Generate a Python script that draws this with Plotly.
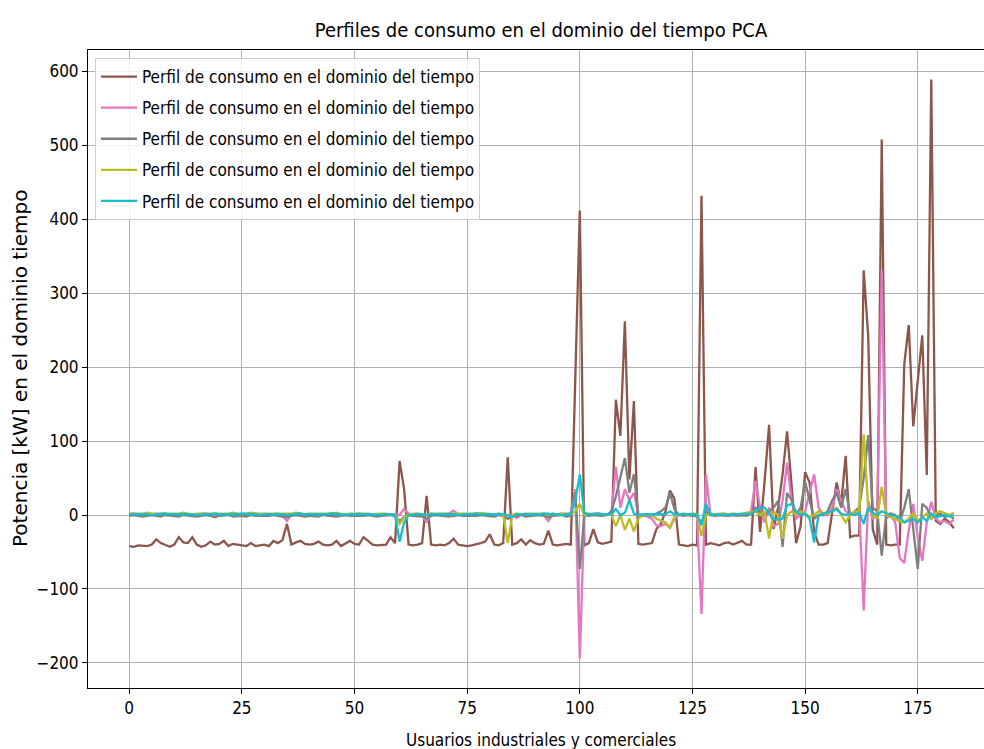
import plotly.graph_objects as go

x_vals = list(range(184))

brown = [-42,-43,-41,-42,-42,-40,-33,-38,-41,-43,
         -40,-30,-37,-38,-30,-40,-43,-41,-36,-40,
         -39,-35,-42,-39,-40,-41,-42,-38,-42,-41,
         -40,-42,-35,-38,-34,-12,-40,-37,-35,-39,
         -40,-39,-36,-40,-41,-40,-35,-42,-38,-35,
         -39,-40,-30,-35,-40,-41,-41,-40,-30,-38,
         73,35,-40,-41,-40,-38,26,-40,-41,-40,
         -41,-38,-32,-40,-41,-42,-41,-40,-38,-36,
         -26,-40,-41,-38,78,-40,-38,-33,-40,-34,
         -38,-40,-39,-21,-40,-41,-40,-39,-40,180,
         412,-41,-38,-19,-37,-39,-38,-36,156,107,
         262,48,154,-39,-40,-39,-38,-19,-12,5,
         33,22,-40,-41,-42,-40,-41,432,-40,-38,
         -40,-41,-38,-37,-40,-38,-35,-40,-40,65,
         -23,45,122,-19,10,55,113,40,-38,-15,
         58,44,-23,-40,-40,-38,0,44,15,80,
         -30,-28,-28,331,242,-19,-40,508,-40,-41,
         -40,-40,203,257,120,180,243,54,589,-8,
         -12,-5,-10,-18]

pink = [1,2,1,1,0,1,2,1,1,0,
        1,1,2,1,0,1,1,2,1,1,
        0,1,1,2,1,1,0,1,2,1,
        1,0,1,2,-1,-8,1,2,1,0,
        1,1,2,1,0,1,3,1,1,0,
        1,2,1,0,1,1,2,1,0,1,
        0,8,2,1,1,0,-10,2,1,1,
        1,2,6,1,0,1,1,2,1,0,
        1,1,0,1,-5,0,-4,1,1,0,
        1,1,0,-8,1,1,2,1,3,35,
        -194,3,0,2,1,1,0,2,65,10,
        35,20,30,0,0,-2,-5,-14,-15,-12,
        -17,-5,0,1,1,0,0,-134,55,0,
        0,1,1,0,1,1,0,2,5,46,
        10,-10,10,-15,-12,20,71,20,-5,0,
        5,30,55,10,0,0,10,35,20,5,
        0,2,10,-129,20,-5,0,331,-5,0,
        -10,-58,-65,-20,15,-30,-62,-10,18,-5,
        -10,-8,-12,-6]

gray = [-1,0,-1,-2,-1,0,-1,-2,0,-1,
        -1,-2,0,-1,-1,-2,-1,0,-1,-3,
        -1,-1,0,-2,-1,-1,-2,0,-1,-1,
        -2,-1,0,-1,-2,-3,-1,0,-1,-2,
        -1,-1,-2,0,-1,-1,-2,-1,0,-1,
        -1,-2,-1,0,-1,-2,-1,-1,0,-2,
        -8,-3,0,-1,-1,-2,-5,-1,0,-1,
        -1,-2,-1,0,-1,-1,-2,-1,0,-1,
        -1,-2,0,-1,-5,-1,-1,0,-2,-1,
        -1,0,-1,-3,-1,-1,0,-2,-1,30,
        -73,0,-1,0,-1,-1,0,5,25,50,
        77,30,55,0,-1,0,-1,2,5,10,
        30,8,0,-1,0,-1,-2,-10,5,0,
        -1,0,-1,-1,0,-1,0,-1,2,10,
        5,0,5,10,19,-43,30,20,0,10,
        45,20,-5,0,0,5,20,30,10,35,
        0,5,10,50,108,10,5,-55,0,2,
        0,-10,10,35,-20,-73,15,10,-5,0,
        2,-3,0,-5]

olive = [2,2,1,2,3,2,1,2,2,1,
         2,2,3,2,1,2,2,1,2,2,
         1,2,2,3,2,1,2,3,2,2,
         2,1,2,2,1,2,2,3,2,1,
         2,2,1,2,2,3,2,2,1,2,
         2,2,3,2,1,2,2,2,1,0,
         -12,-3,1,2,2,1,0,2,2,1,
         2,2,1,2,2,1,2,2,3,2,
         2,1,2,1,-38,0,2,1,2,2,
         1,2,2,0,2,1,2,2,1,5,
         15,0,2,1,2,2,1,0,-15,0,
         -20,-5,-22,-5,0,1,0,-5,-8,-10,
         -17,-2,1,2,1,2,1,-28,0,2,
         1,2,2,1,2,1,2,2,3,5,
         0,5,-32,5,0,-32,0,5,0,5,
         2,-3,0,5,3,2,5,10,0,-10,
         0,5,5,109,10,0,-5,38,0,-3,
         -5,-8,-10,-5,2,-8,-3,2,-5,3,
         5,2,0,3]

cyan = [1,1,2,1,1,0,1,1,2,1,
        1,1,1,2,1,0,1,1,1,2,
        1,1,0,1,1,2,1,1,1,0,
        1,1,2,1,1,0,1,1,2,1,
        1,0,1,1,1,2,1,1,0,1,
        1,1,2,1,1,0,1,1,1,0,
        -36,-10,0,1,1,1,0,1,1,2,
        1,1,1,0,1,1,1,2,1,1,
        1,1,2,1,0,-3,1,1,1,0,
        1,1,2,1,1,1,0,1,1,20,
        55,3,1,1,2,1,1,1,8,0,
        3,20,2,0,1,1,1,0,1,1,
        5,1,1,1,0,1,1,-14,15,0,
        1,1,0,1,1,1,1,1,2,5,
        10,10,2,-6,-6,-5,13,15,5,0,
        2,-5,-37,0,2,3,5,8,2,0,
        2,0,3,-12,10,3,0,5,2,0,
        -1,-3,-10,-8,-5,-10,-3,-8,2,-3,
        -2,0,-2,0]

series = [brown, pink, gray, olive, cyan]
colors = ["#8c564b", "#e377c2", "#7f7f7f", "#bcbd22", "#17becf"]
legend_name = "Perfil de consumo en el dominio del tiempo"
x_ticks = [0, 25, 50, 75, 100, 125, 150, 175]
y_ticks = [-200, -100, 0, 100, 200, 300, 400, 500, 600]

FONT = "DejaVu Sans Condensed, Liberation Sans Narrow, DejaVu Sans"

fig = go.Figure()
for k, (s, c) in enumerate(zip(series, colors)):
    fig.add_trace(go.Scatter(x=x_vals, y=s, mode="lines", name=legend_name,
                             legendgroup="g%d" % k,
                             line=dict(color=c, width=2.3)))

W, H = 984, 749
L, R, T, B = 88, 0, 50, 61
pw = W - L - R
ph = H - T - B

fig.update_layout(
    width=W, height=H,
    margin=dict(l=L, r=R, t=T, b=B),
    paper_bgcolor="white", plot_bgcolor="white",
    font=dict(family=FONT, size=17, color="black"),
    title=dict(text="Perfiles de consumo en el dominio del tiempo PCA",
               x=541 / W, xref="container", xanchor="center",
               y=1 - 30 / H, yref="container", yanchor="middle",
               font=dict(family=FONT, size=20, color="black")),
    showlegend=True,
    legend=dict(x=(95 - L) / pw, y=1 - (58 - T) / ph, xanchor="left", yanchor="top",
                bgcolor="rgba(255,255,255,0.8)", bordercolor="#cccccc", borderwidth=1,
                font=dict(family=FONT, size=17, color="black"),
                traceorder="grouped", tracegroupgap=6, itemwidth=36),
    xaxis=dict(range=[-9.15, 189.7], tickvals=x_ticks, showgrid=True,
               gridcolor="#b0b0b0", gridwidth=1, zeroline=False,
               showline=True, linecolor="black", linewidth=1, mirror=True,
               ticks="outside", ticklen=5, tickcolor="black",
               tickfont=dict(family=FONT, size=17, color="black")),
    yaxis=dict(range=[-234, 629], tickvals=y_ticks, showgrid=True,
               gridcolor="#b0b0b0", gridwidth=1, zeroline=False,
               showline=True, linecolor="black", linewidth=1, mirror=False,
               ticks="outside", ticklen=5, tickcolor="black",
               tickfont=dict(family=FONT, size=17, color="black")),
    annotations=[
        dict(text="Usuarios industriales y comerciales", xref="paper", yref="paper",
             x=(541 - L) / pw, y=-(740 - (T + ph)) / ph, xanchor="center", yanchor="middle",
             showarrow=False, font=dict(family=FONT, size=17, color="black")),
        dict(text="Potencia [kW] en el dominio tiempo", xref="paper", yref="paper",
             x=(20 - L) / pw, y=1 - (369 - T) / ph, xanchor="center", yanchor="middle",
             textangle=-90, showarrow=False,
             font=dict(family="DejaVu Sans", size=20, color="black")),
    ],
)

fig.write_html("out.html")
